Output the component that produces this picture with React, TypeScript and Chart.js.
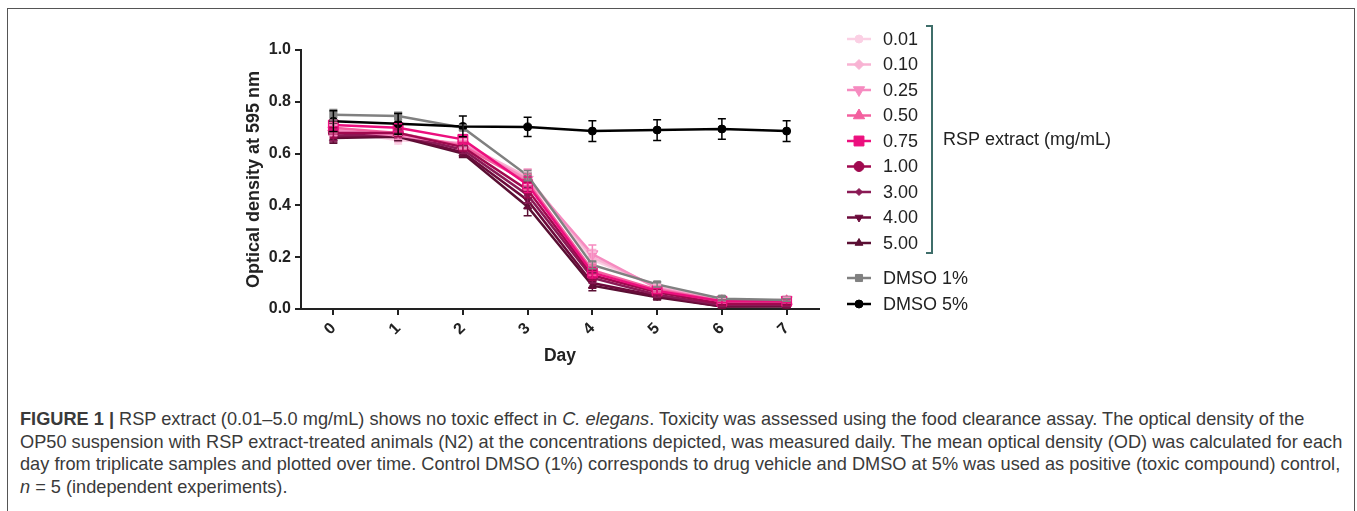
import React, { useEffect, useRef } from 'react';
import { Chart, registerables } from 'chart.js';
import { drawPoint } from 'chart.js/helpers';

Chart.register(...registerables);

// ---------- DATA ----------
const days = [0, 1, 2, 3, 4, 5, 6, 7];
const seriesLabels = ['0.01', '0.10', '0.25', '0.50', '0.75', '1.00', '3.00', '4.00', '5.00', 'DMSO 1%', 'DMSO 5%'];

const od001 = [0.69, 0.652, 0.64, 0.5, 0.19, 0.085, 0.035, 0.025];
const od010 = [0.7, 0.66, 0.64, 0.51, 0.2, 0.085, 0.035, 0.025];
const od025 = [0.69, 0.67, 0.635, 0.5, 0.212, 0.08, 0.03, 0.035];
const od050 = [0.7, 0.68, 0.63, 0.49, 0.15, 0.075, 0.03, 0.03];
const od075 = [0.71, 0.7, 0.655, 0.48, 0.14, 0.07, 0.03, 0.03];
const od100 = [0.68, 0.68, 0.625, 0.46, 0.13, 0.065, 0.02, 0.02];
const od300 = [0.67, 0.675, 0.615, 0.44, 0.12, 0.055, 0.015, 0.015];
const od400 = [0.665, 0.67, 0.605, 0.42, 0.1, 0.05, 0.01, 0.012];
const od500 = [0.66, 0.665, 0.6, 0.395, 0.09, 0.045, 0.01, 0.01];
const odDmso1 = [0.75, 0.745, 0.7, 0.515, 0.17, 0.095, 0.04, 0.035];
const odDmso5 = [0.725, 0.715, 0.705, 0.703, 0.687, 0.691, 0.695, 0.687];

const err001 = [0.02, 0.015, 0.015, 0.03, 0.03, 0.01, 0.008, 0.008];
const err010 = [0.02, 0.015, 0.015, 0.03, 0.03, 0.01, 0.008, 0.008];
const err025 = [0.02, 0.015, 0.015, 0.04, 0.035, 0.01, 0.008, 0.01];
const err050 = [0.02, 0.015, 0.015, 0.03, 0.02, 0.01, 0.006, 0.006];
const err075 = [0.02, 0.015, 0.015, 0.03, 0.02, 0.01, 0.006, 0.006];
const err100 = [0.02, 0.015, 0.015, 0.03, 0.02, 0.01, 0.006, 0.006];
const err300 = [0.02, 0.015, 0.015, 0.03, 0.02, 0.01, 0.006, 0.006];
const err400 = [0.02, 0.015, 0.015, 0.03, 0.02, 0.01, 0.006, 0.006];
const err500 = [0.02, 0.015, 0.015, 0.035, 0.02, 0.01, 0.006, 0.006];
const errDmso1 = [0.02, 0.015, 0.01, 0.02, 0.015, 0.01, 0.005, 0.005];
const errDmso5 = [0.04, 0.04, 0.04, 0.037, 0.04, 0.04, 0.04, 0.04];

const seriesValues = [od001, od010, od025, od050, od075, od100, od300, od400, od500, odDmso1, odDmso5];
const seriesErrors = [err001, err010, err025, err050, err075, err100, err300, err400, err500, errDmso1, errDmso5];

// ---------- STYLES ----------
const colors = ['#fbd0e4', '#f8b3d3', '#f68bc0', '#f3609f', '#ec0f7e', '#a0094f', '#8a1a55', '#6c0b3b', '#5a0f33', '#808080', '#000000'];
const pointStyles = ['circle', 'rectRot', 'triangle', 'triangle', 'rect', 'circle', 'rectRot', 'triangle', 'triangle', 'rect', 'circle'];
const pointRotations = [0, 0, 180, 0, 0, 0, 0, 180, 0, 0, 0];
const pointRadii = [4, 5, 6.5, 6.5, 7, 5, 3.5, 4.5, 4.5, 5, 4];
const drawOrder = [10, 9, 5, 4, 2, 3, 6, 7, 8, 1, 0];

const FONT = "'Liberation Sans', Arial, Helvetica, sans-serif";
const AXIS = '#222222';

const errorBarPlugin = {
  id: 'errorBars',
  afterDatasetsDraw(chart: any) {
    const ctx = chart.ctx;
    const yScale = chart.scales.y;
    const metas = chart.getSortedVisibleDatasetMetas().slice().reverse();
    metas.forEach((meta: any) => {
      const ds: any = chart.data.datasets[meta.index];
      const errs: number[] = ds.errors || [];
      ctx.save();
      ctx.strokeStyle = ds.borderColor;
      ctx.lineWidth = 1.5;
      meta.data.forEach((pt: any, i: number) => {
        const e = errs[i];
        if (!e) return;
        const v = ds.data[i].y;
        const yt = yScale.getPixelForValue(v + e);
        const yb = yScale.getPixelForValue(v - e);
        ctx.beginPath();
        ctx.moveTo(pt.x, yt);
        ctx.lineTo(pt.x, yb);
        ctx.moveTo(pt.x - 4, yt);
        ctx.lineTo(pt.x + 4, yt);
        ctx.moveTo(pt.x - 4, yb);
        ctx.lineTo(pt.x + 4, yb);
        ctx.stroke();
      });
      ctx.restore();
    });
  },
};

const legendPlugin = {
  id: 'customLegend',
  afterDraw(chart: any) {
    const ctx = chart.ctx;
    ctx.save();
    chart.data.datasets.forEach((ds: any, i: number) => {
      const y = i < 9 ? 39 + i * 25.5 : 278 + (i - 9) * 26;
      ctx.strokeStyle = ds.borderColor;
      ctx.lineWidth = 2.5;
      ctx.beginPath();
      ctx.moveTo(847, y);
      ctx.lineTo(871, y);
      ctx.stroke();
      ctx.fillStyle = ds.backgroundColor;
      ctx.strokeStyle = ds.borderColor;
      ctx.lineWidth = 1;
      drawPoint(ctx, { pointStyle: ds.pointStyle, rotation: ds.pointRotation, radius: ds.pointRadius, borderWidth: 1 } as any, 859, y);
      ctx.fillStyle = '#222';
      ctx.font = `18px ${FONT}`;
      ctx.textAlign = 'left';
      ctx.textBaseline = 'middle';
      ctx.fillText(ds.label, 883, y + 1);
    });
    // bracket
    ctx.strokeStyle = '#3f6e6a';
    ctx.lineWidth = 2;
    ctx.beginPath();
    ctx.moveTo(926, 26);
    ctx.lineTo(932, 26);
    ctx.lineTo(932, 253);
    ctx.lineTo(926, 253);
    ctx.stroke();
    ctx.fillStyle = '#222';
    ctx.font = `18px ${FONT}`;
    ctx.textAlign = 'left';
    ctx.textBaseline = 'middle';
    ctx.fillText('RSP extract (mg/mL)', 943, 140);
    ctx.restore();
  },
};

export default function App() {
  const canvasRef = useRef<HTMLCanvasElement | null>(null);

  useEffect(() => {
    if (!canvasRef.current) return;
    const datasets = seriesLabels.map((label, i) => ({
      label,
      data: days.map((d, j) => ({ x: d, y: seriesValues[i][j] })),
      errors: seriesErrors[i],
      borderColor: colors[i],
      backgroundColor: colors[i],
      borderWidth: 2.5,
      pointStyle: pointStyles[i],
      pointRotation: pointRotations[i],
      pointRadius: pointRadii[i],
      pointBorderWidth: 1,
      tension: 0,
      order: drawOrder[i],
    }));

    const chart = new Chart(canvasRef.current, {
      type: 'line',
      data: { datasets } as any,
      plugins: [errorBarPlugin, legendPlugin],
      options: {
        responsive: false,
        animation: false,
        devicePixelRatio: 1,
        layout: { padding: { left: 240, top: 50, right: 538, bottom: 11 } },
        plugins: { legend: { display: false }, tooltip: { enabled: false } },
        scales: {
          x: {
            type: 'linear',
            min: -0.5,
            max: 7.5,
            afterFit: (s: any) => { s.height = 60; },
            afterBuildTicks: (s: any) => { s.ticks = days.map((d) => ({ value: d })); },
            ticks: {
              minRotation: 45,
              maxRotation: 45,
              autoSkip: false,
              color: AXIS,
              padding: 4,
              font: { family: FONT, size: 16, weight: 'bold' },
              callback: (v: any) => String(v),
            },
            grid: { drawOnChartArea: false, drawTicks: true, tickLength: 6, color: AXIS, lineWidth: 2 },
            border: { display: true, color: AXIS, width: 2 },
            title: { display: true, text: 'Day', color: AXIS, font: { family: FONT, size: 17.5, weight: 'bold' }, padding: { top: 4, bottom: 2 } },
          },
          y: {
            min: 0,
            max: 1,
            afterFit: (s: any) => { s.width = 61; },
            ticks: {
              stepSize: 0.2,
              color: AXIS,
              padding: 4,
              font: { family: FONT, size: 16, weight: 'bold' },
              callback: (v: any) => Number(v).toFixed(1),
            },
            grid: { drawOnChartArea: false, drawTicks: true, tickLength: 6, color: AXIS, lineWidth: 2 },
            border: { display: true, color: AXIS, width: 2 },
            title: { display: true, text: 'Optical density at 595 nm', color: AXIS, font: { family: FONT, size: 18, weight: 'bold' }, padding: { top: 3, bottom: 4 } },
          },
        },
      } as any,
    });
    return () => chart.destroy();
  }, []);

  const capStyle: React.CSSProperties = {
    position: 'absolute',
    left: 20,
    top: 408,
    fontFamily: FONT,
    fontSize: 18.2,
    lineHeight: '22.7px',
    color: '#3a3a3a',
    whiteSpace: 'nowrap',
  };

  return (
    <div style={{ position: 'fixed', left: 0, top: 0, width: 1357, height: 511, overflow: 'hidden', background: '#fff' }}>
      <div style={{ position: 'absolute', left: 7, top: 8, width: 1346, height: 540, border: '1.5px solid #555' }} />
      <canvas ref={canvasRef} width={1357} height={380} style={{ position: 'absolute', left: 0, top: 0, width: 1357, height: 380 }} />
      <div style={capStyle}>
        <div>
          <b>FIGURE 1 |</b> RSP extract (0.01–5.0 mg/mL) shows no toxic effect in <i>C. elegans</i>. Toxicity was assessed using the food clearance assay. The optical density of the
        </div>
        <div>
          OP50 suspension with RSP extract-treated animals (N2) at the concentrations depicted, was measured daily. The mean optical density (OD) was calculated for each
        </div>
        <div>
          day from triplicate samples and plotted over time. Control DMSO (1%) corresponds to drug vehicle and DMSO at 5% was used as positive (toxic compound) control,
        </div>
        <div>
          <i>n</i> = 5 (independent experiments).
        </div>
      </div>
    </div>
  );
}
